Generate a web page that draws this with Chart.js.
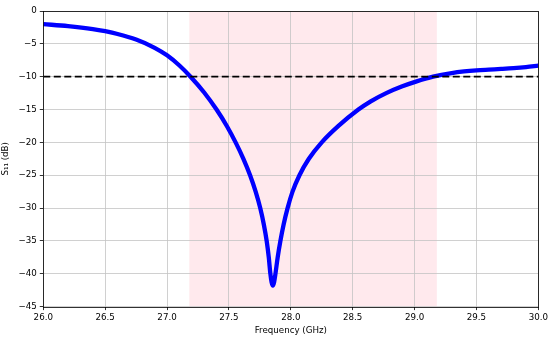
<!DOCTYPE html>
<html>
<head>
<meta charset="utf-8">
<script src="https://cdn.jsdelivr.net/npm/chart.js@4/dist/chart.umd.min.js"></script>
<style>
html,body{margin:0;padding:0;background:#fff;}
#wrap{width:550px;height:337px;}
</style>
</head>
<body>
<div id="wrap"><canvas id="c" width="550" height="337"></canvas></div>
<script>
const freqs = [26.0, 26.2, 26.4, 26.5, 26.6, 26.75, 26.9, 27.0, 27.1, 27.19, 27.3, 27.4, 27.483, 27.554, 27.617, 27.671, 27.716, 27.753, 27.782, 27.805, 27.822, 27.835, 27.845, 27.855, 27.865, 27.876, 27.894, 27.916, 27.942, 27.974, 28.014, 28.07, 28.146, 28.25, 28.385, 28.546, 28.646, 28.771, 28.896, 29.011, 29.15, 29.3, 29.4, 29.5, 29.6, 29.7, 29.8, 29.9, 30.0];
const s11   = [-2.0, -2.3, -2.75, -3.08, -3.5, -4.35, -5.6, -6.75, -8.3, -10.0, -12.4, -15.0, -17.5, -20.0, -22.5, -25.0, -27.5, -30.0, -32.5, -35.0, -37.5, -40.0, -41.3, -41.8, -41.3, -40.0, -37.5, -35.0, -32.5, -30.0, -27.5, -25.0, -22.5, -20.0, -17.5, -15.0, -13.75, -12.5, -11.5, -10.75, -10.0, -9.45, -9.2, -9.03, -8.92, -8.82, -8.7, -8.53, -8.3];
const refFreqs = [26.0, 30.0];
const refLevel = [-10, -10];
const band = [27.18, 29.18];
const xTicks = [26.0, 26.5, 27.0, 27.5, 28.0, 28.5, 29.0, 29.5, 30.0];
const yTicks = [0, -5, -10, -15, -20, -25, -30, -35, -40, -45];

const FONT = {family: 'DejaVu Sans', size: 8.7};

const bandPlugin = {
  id: 'band',
  beforeDraw(chart) {
    const {ctx, chartArea, scales} = chart;
    const x0 = scales.x.getPixelForValue(band[0]);
    const x1 = scales.x.getPixelForValue(band[1]);
    ctx.save();
    ctx.fillStyle = 'rgba(255,192,203,0.35)';
    ctx.fillRect(x0, chartArea.top, x1 - x0, chartArea.bottom - chartArea.top);
    ctx.restore();
  },
  afterDraw(chart) {
    const {ctx, chartArea} = chart;
    ctx.save();
    ctx.strokeStyle = '#000';
    ctx.lineWidth = 0.8;
    ctx.strokeRect(Math.round(chartArea.left) + 0.5, Math.round(chartArea.top) + 0.5,
      Math.round(chartArea.right - chartArea.left), Math.round(chartArea.bottom - chartArea.top));
    ctx.restore();
  }
};

new Chart(document.getElementById('c'), {
  type: 'line',
  data: {
    datasets: [
      {
        label: 'S11',
        data: freqs.map((f, i) => ({x: f, y: s11[i]})),
        borderColor: '#0000ff',
        borderWidth: 4.3,
        pointRadius: 0,
        cubicInterpolationMode: 'monotone',
        fill: false,
        order: 1
      },
      {
        label: '-10 dB',
        data: refFreqs.map((f, i) => ({x: f, y: refLevel[i]})),
        borderColor: '#000000',
        borderWidth: 1.8,
        borderDash: [7, 3.5],
        pointRadius: 0,
        fill: false,
        order: 0
      }
    ]
  },
  options: {
    responsive: false,
    animation: false,
    devicePixelRatio: 1,
    layout: {padding: {top: 11, right: 11, left: 1, bottom: 1}},
    plugins: {legend: {display: false}, tooltip: {enabled: false}},
    scales: {
      x: {
        type: 'linear',
        min: 26, max: 30,
        afterBuildTicks(axis) { axis.ticks = xTicks.map(v => ({value: v})); },
        ticks: {
          font: FONT, color: '#000', padding: 2, maxRotation: 0,
          callback: v => Number(v).toFixed(1)
        },
        grid: {color: '#c4c4c4', lineWidth: 0.8, tickLength: 3.5, tickColor: '#000', drawTicks: true},
        border: {display: false},
        title: {display: true, text: 'Frequency (GHz)', font: FONT, color: '#000', padding: {top: 1, bottom: 0}}
      },
      y: {
        type: 'linear',
        min: -45, max: 0,
        afterBuildTicks(axis) { axis.ticks = yTicks.map(v => ({value: v})); },
        ticks: {
          font: FONT, color: '#000', padding: 3,
          callback: v => String(v).replace('-', '\u2212')
        },
        grid: {color: '#c4c4c4', lineWidth: 0.8, tickLength: 3.5, tickColor: '#000'},
        border: {display: false},
        title: {display: true, text: 'S\u2081\u2081 (dB)', font: FONT, color: '#000', padding: {top: 0, bottom: 4}}
      }
    }
  },
  plugins: [bandPlugin]
});
</script>
</body>
</html>
